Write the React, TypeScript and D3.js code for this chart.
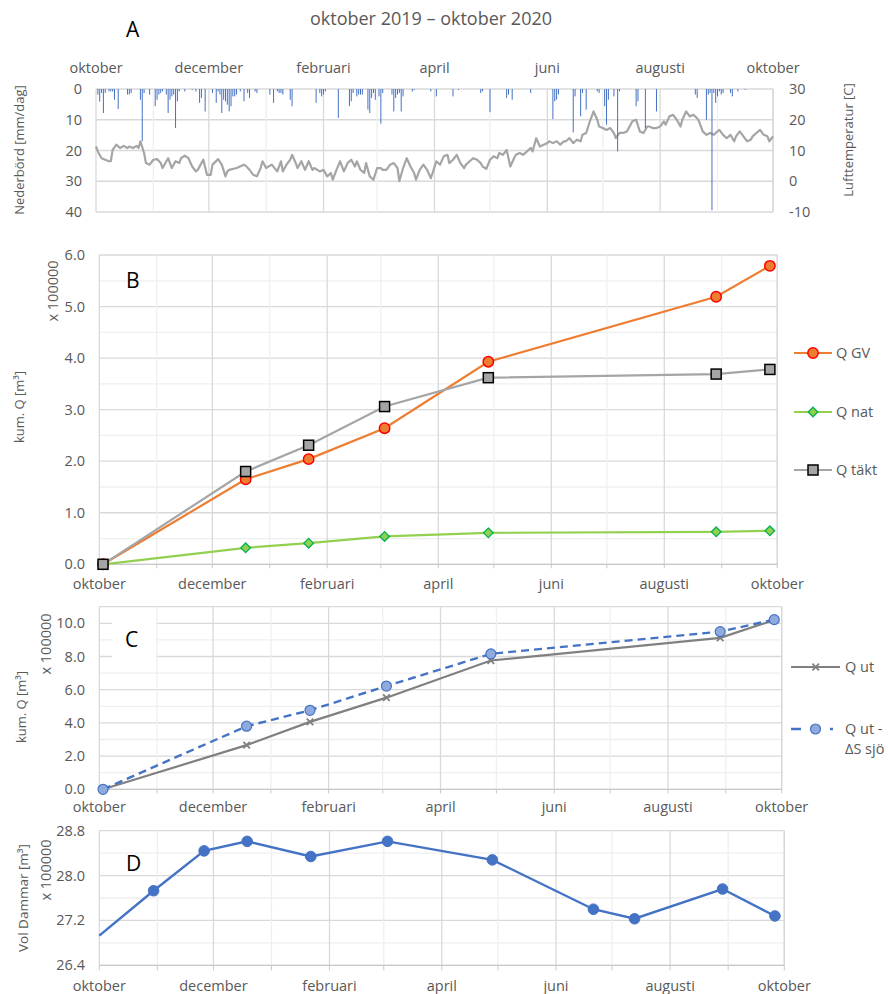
import React from "react";
import * as d3 from "d3";

const FONT = "'Open Sans', sans-serif";
const TXT = "#595959";
const GMAJ = "#D9D9D9";
const GMIN = "#EFEFEF";
const AXIS = "#C8C8C8";

const parse = d3.timeParse("%Y-%m-%d");
const T0 = parse("2019-10-01") as Date;
const T1 = parse("2020-10-01") as Date;
const monthNames = ["januari", "februari", "mars", "april", "maj", "juni", "juli", "augusti", "september", "oktober", "november", "december"];

// ---------- Panel A: daily precipitation (days since 1 Oct 2019) ----------
const precipDay = [1, 2, 3, 4, 5, 7, 8, 9, 10, 12, 17, 18, 19, 24, 25, 26, 29, 32, 33, 34, 35, 36, 38, 39, 40, 41, 42, 43, 44, 45, 48, 52, 54, 56, 57, 59, 63, 65, 66, 67, 68, 69, 70, 71, 72, 73, 74, 75, 76, 78, 80, 82, 83, 86, 87, 94, 96, 98, 99, 100, 101, 105, 106, 119, 121, 122, 123, 124, 131, 137, 138, 139, 141, 142, 143, 144, 147, 148, 149, 150, 151, 153, 154, 155, 160, 161, 162, 163, 164, 165, 166, 171, 172, 181, 184, 193, 196, 208, 209, 213, 222, 223, 225, 235, 247, 248, 249, 250, 258, 259, 262, 263, 265, 271, 272, 275, 276, 277, 280, 282, 283, 292, 293, 297, 303, 324, 325, 330, 331, 332, 333, 334, 335, 336, 337, 338, 339, 343, 344, 347, 351];
const precipMm = [1.8, 4.1, 1.3, 7.8, 1.3, 0.8, 0.8, 0.8, 3.5, 6.5, 1.8, 1.8, 1.3, 3.5, 17.0, 1.3, 1.8, 5.6, 3.5, 1.8, 1.3, 0.8, 1.8, 7.8, 3.5, 2.4, 1.8, 12.7, 4.0, 0.8, 0.8, 0.3, 0.8, 4.5, 2.9, 7.3, 1.3, 4.5, 0.8, 1.8, 7.8, 3.5, 4.0, 5.1, 7.3, 5.6, 2.4, 2.4, 1.8, 0.8, 4.0, 1.3, 2.9, 0.8, 1.3, 1.8, 4.5, 0.8, 1.3, 1.3, 1.8, 3.5, 5.6, 4.5, 1.3, 2.4, 1.8, 0.8, 9.4, 5.6, 4.0, 1.3, 2.4, 1.8, 1.8, 1.8, 6.7, 7.8, 2.9, 1.3, 3.5, 2.4, 11.3, 1.3, 1.8, 7.3, 2.9, 1.8, 1.3, 7.3, 2.4, 0.8, 0.3, 0.8, 2.4, 2.4, 0.3, 1.3, 0.8, 7.5, 2.9, 1.8, 3.5, 1.3, 9.8, 4.0, 3.5, 1.8, 14.1, 2.4, 8.9, 1.3, 6.7, 0.8, 1.3, 5.6, 11.6, 3.5, 2.4, 20.3, 0.8, 5.6, 4.0, 12.7, 7.3, 1.8, 2.9, 10.0, 1.8, 1.3, 39.4, 1.3, 4.5, 2.4, 0.8, 1.8, 1.3, 1.3, 2.4, 0.8, 0.3];

// ---------- Panel A: air temperature ----------
const tempDay = [0, 1, 3, 5, 7, 8, 9, 11, 13, 15, 17, 18, 20, 22, 23, 24, 26, 27, 29, 31, 33, 35, 36, 39, 41, 43, 45, 46, 48, 50, 52, 54, 55, 58, 60, 62, 63, 66, 68, 70, 71, 72, 76, 80, 81, 83, 85, 87, 89, 90, 92, 95, 98, 100, 101, 103, 105, 106, 108, 109, 111, 113, 115, 117, 118, 121, 123, 125, 127, 128, 130, 132, 134, 136, 138, 140, 141, 143, 145, 146, 148, 150, 152, 154, 155, 157, 159, 161, 163, 164, 166, 168, 170, 172, 173, 175, 177, 179, 181, 182, 184, 186, 188, 190, 191, 193, 195, 197, 199, 200, 202, 204, 206, 208, 209, 211, 213, 215, 217, 218, 220, 222, 224, 226, 227, 229, 231, 233, 235, 236, 238, 240, 242, 244, 245, 247, 249, 251, 253, 254, 256, 258, 260, 262, 263, 265, 267, 269, 271, 272, 274, 276, 278, 280, 281, 283, 285, 287, 289, 290, 292, 294, 296, 298, 299, 301, 303, 305, 307, 308, 310, 312, 314, 316, 317, 319, 321, 323, 325, 326, 328, 330, 332, 334, 335, 337, 339, 341, 343, 345, 346, 348, 350, 352, 354, 355, 357, 359, 361, 363, 364, 366];
const tempC = [11.3, 9.7, 7.5, 7.0, 6.5, 6.5, 10.2, 11.9, 10.8, 11.5, 10.8, 11.3, 10.8, 11.5, 10.8, 13.0, 9.2, 5.9, 5.4, 7.0, 7.2, 5.9, 4.3, 7.5, 4.3, 6.5, 5.9, 7.5, 8.3, 7.5, 4.8, 3.2, 3.7, 7.0, 2.1, 2.1, 5.4, 7.2, 5.4, 1.6, 3.2, 3.7, 4.3, 5.4, 5.0, 3.7, 2.1, 1.6, 4.3, 6.5, 4.3, 5.4, 3.2, 6.5, 3.2, 5.4, 7.0, 8.6, 5.9, 4.3, 6.5, 3.7, 6.5, 3.7, 4.3, 3.2, 3.7, 1.6, 2.7, 0.5, 3.7, 6.5, 3.2, 5.9, 7.0, 4.8, 6.5, 3.7, 2.7, 5.9, 1.6, 0.5, 4.3, 4.3, 3.7, 3.7, 5.4, 5.9, 4.3, 0.0, 4.3, 7.5, 4.8, 2.7, 0.5, 3.7, 5.4, 3.7, 1.0, 2.7, 6.5, 5.4, 8.1, 8.6, 5.9, 7.0, 8.6, 5.9, 4.3, 5.4, 6.5, 7.5, 7.0, 5.9, 4.8, 4.0, 7.0, 8.1, 7.5, 9.2, 8.6, 10.2, 4.8, 7.5, 8.6, 9.2, 8.6, 9.7, 10.8, 9.7, 14.0, 11.3, 11.9, 12.4, 13.0, 12.4, 13.0, 11.9, 13.0, 13.0, 14.0, 12.4, 13.5, 13.0, 15.1, 15.7, 19.5, 22.7, 20.0, 17.8, 17.3, 16.7, 17.3, 15.7, 14.0, 15.7, 15.7, 16.2, 18.4, 19.5, 20.0, 16.2, 15.7, 17.8, 17.8, 17.3, 17.3, 17.8, 19.5, 18.4, 21.1, 21.6, 20.0, 17.8, 20.0, 22.7, 21.1, 21.6, 20.5, 19.5, 16.2, 15.1, 15.7, 15.1, 15.7, 16.7, 15.1, 14.0, 15.1, 13.0, 14.6, 16.2, 14.6, 13.0, 13.5, 14.6, 15.7, 16.7, 15.1, 14.6, 13.0, 14.6];
const precipTicks = [0, 10, 20, 30, 40];
const tempTicks = [-10, 0, 10, 20, 30];

// ---------- Panel B: cumulative Q (x 100000 m3) ----------
const bDates = ["2019-10-03", "2019-12-19", "2020-01-22", "2020-03-03", "2020-04-28", "2020-08-29", "2020-09-27"];
const qGV = [0, 1.65, 2.04, 2.64, 3.93, 5.19, 5.79];
const qNat = [0, 0.32, 0.41, 0.54, 0.61, 0.63, 0.65];
const qTakt = [0, 1.8, 2.31, 3.06, 3.62, 3.69, 3.78];
const bTicks = [0, 1, 2, 3, 4, 5, 6];

// ---------- Panel C ----------
const cDates = ["2019-10-03", "2019-12-19", "2020-01-22", "2020-03-03", "2020-04-28", "2020-08-29", "2020-09-27"];
const qUt = [0, 2.66, 4.06, 5.52, 7.76, 9.12, 10.2];
const qUtDS = [0, 3.8, 4.76, 6.22, 8.16, 9.5, 10.22];
const cTicks = [0, 2, 4, 6, 8, 10];

// ---------- Panel D ----------
const dDates = ["2019-10-01", "2019-10-30", "2019-11-26", "2019-12-19", "2020-01-22", "2020-03-03", "2020-04-28", "2020-06-21", "2020-07-13", "2020-08-29", "2020-09-26"];
const volDammar = [26.93, 27.73, 28.44, 28.61, 28.34, 28.61, 28.28, 27.4, 27.23, 27.76, 27.28];
const dTicks = [26.4, 27.2, 28.0, 28.8];

const months = d3.timeMonth.range(T0, d3.timeDay.offset(T1, 1));
const dayDate = (d: number) => d3.timeDay.offset(T0, d);

type TS = d3.ScaleTime<number, number>;

function MonthGrid({ x, y0, y1, tick }: { x: TS; y0: number; y1: number; tick: number }) {
  return (
    <g>
      {months.map((m, i) => (
        <line key={"g" + i} x1={x(m)} x2={x(m)} y1={y0} y2={y1} stroke={i % 2 === 0 ? GMAJ : GMIN} strokeWidth={1.3} />
      ))}
      {tick > 0 &&
        months.map((m, i) => (
          <line key={"t" + i} x1={x(m)} x2={x(m)} y1={y1} y2={y1 + tick} stroke={AXIS} strokeWidth={1} />
        ))}
    </g>
  );
}

function MonthLabels({ x, y }: { x: TS; y: number }) {
  return (
    <g>
      {months
        .filter((_, i) => i % 2 === 0)
        .map((m, i) => (
          <text key={i} x={x(m)} y={y} textAnchor="middle" fontSize={14.5} fill={TXT}>
            {monthNames[m.getMonth()]}
          </text>
        ))}
    </g>
  );
}

function VLabel({ x, y, text, size = 13 }: { x: number; y: number; text: string; size?: number }) {
  return (
    <text transform={`translate(${x},${y}) rotate(-90)`} textAnchor="middle" fontSize={size} fill={TXT}>
      {text}
    </text>
  );
}

function Circle({ cx, cy, r, fill, stroke, sw }: any) {
  return <circle cx={cx} cy={cy} r={r} fill={fill} stroke={stroke} strokeWidth={sw} />;
}
function Square({ cx, cy }: any) {
  return <rect x={cx - 5} y={cy - 5} width={10} height={10} fill="#A5A5A5" stroke="#000" strokeWidth={1.5} />;
}
function Diamond({ cx, cy }: any) {
  const s = 4.8;
  return <path d={`M${cx},${cy - s}L${cx + s},${cy}L${cx},${cy + s}L${cx - s},${cy}Z`} fill="#92D050" stroke="#00B050" strokeWidth={1.3} />;
}
function XMark({ cx, cy }: any) {
  const s = 3.3;
  return <path d={`M${cx - s},${cy - s}L${cx + s},${cy + s}M${cx - s},${cy + s}L${cx + s},${cy - s}`} stroke="#808080" strokeWidth={1.8} />;
}

export default function App() {
  // ---------- A ----------
  const xA = d3.scaleTime().domain([T0, T1]).range([96, 773]);
  const yP = d3.scaleLinear().domain([0, 40]).range([89, 212]);
  const yT = d3.scaleLinear().domain([-10, 30]).range([212, 89]);
  const tempLine = d3
    .line<number>()
    .x((_, i) => xA(dayDate(tempDay[i])))
    .y((v) => yT(v))(tempC) as string;

  // ---------- B ----------
  const xB = d3.scaleTime().domain([T0, T1]).range([99.3, 777.3]);
  const yB = d3.scaleLinear().domain([0, 6]).range([564.3, 255]);
  const bX = bDates.map((s) => xB(parse(s) as Date));
  const mkLine = (xs: number[], ys: number[], y: d3.ScaleLinear<number, number>) =>
    d3.line<number>().x((_, i) => xs[i]).y((v) => y(v))(ys) as string;
  const bMinor = d3.range(0, 6.01, 0.5);

  // ---------- C ----------
  const xC = d3.scaleTime().domain([T0, T1]).range([99.3, 781.7]);
  const yC = d3.scaleLinear().domain([0, 11]).range([789.3, 606.7]);
  const cX = cDates.map((s) => xC(parse(s) as Date));
  const cGrid = d3.range(0, 11.01, 1);

  // ---------- D ----------
  const xD = d3.scaleTime().domain([T0, T1]).range([99.3, 784.3]);
  const yD = d3.scaleLinear().domain([26.4, 28.8]).range([965.3, 830.7]);
  const dX = dDates.map((s) => xD(parse(s) as Date));
  const dGrid = d3.range(0, 7).map((i) => 26.4 + i * 0.4);

  return (
    <svg width={888} height={994} style={{ position: "absolute", left: 0, top: 0, background: "#fff" }} fontFamily={FONT}>
      <rect x={0} y={0} width={888} height={994} fill="#fff" />
      {/* ===== Panel A ===== */}
      <text x={431} y={25} textAnchor="middle" fontSize={18} fill={TXT}>
        oktober 2019 – oktober 2020
      </text>
      <text x={126} y={37} fontSize={21} fill="#000">A</text>
      {precipTicks.map((t) => (
        <line key={t} x1={96} x2={773} y1={yP(t)} y2={yP(t)} stroke={GMAJ} strokeWidth={1.3} />
      ))}
      <MonthGrid x={xA} y0={89} y1={212} tick={0} />
      <line x1={773} x2={773} y1={89} y2={212} stroke={GMAJ} strokeWidth={1.3} />
      <path d={tempLine} fill="none" stroke="#A5A5A5" strokeWidth={2.2} strokeLinejoin="round" />
      {precipDay.map((d, i) => (
        <rect key={i} x={xA(dayDate(d)) - 0.5} y={yP(0)} width={1} height={yP(precipMm[i]) - yP(0)} fill="#4472C4" />
      ))}
      <MonthLabels x={xA} y={73} />
      {precipTicks.map((t) => (
        <text key={t} x={82} y={yP(t) + 5} textAnchor="end" fontSize={14.5} fill={TXT}>{t}</text>
      ))}
      {tempTicks.map((t) => (
        <text key={t} x={789} y={yT(t) + 5} fontSize={14.5} fill={TXT}>{t}</text>
      ))}
      <VLabel x={24} y={150} text="Nederbörd [mm/dag]" />
      <VLabel x={853} y={140} text="Lufttemperatur [C]" />

      {/* ===== Panel B ===== */}
      {bMinor.map((t, i) => (
        <line key={i} x1={99.3} x2={777.3} y1={yB(t)} y2={yB(t)} stroke={i % 2 === 0 ? GMAJ : GMIN} strokeWidth={1.3} />
      ))}
      <MonthGrid x={xB} y0={255} y1={564.3} tick={4} />
      <line x1={777.3} x2={777.3} y1={255} y2={564.3} stroke={GMAJ} strokeWidth={1.3} />
      <line x1={99.3} x2={777.3} y1={564.3} y2={564.3} stroke={AXIS} strokeWidth={1.3} />
      <text x={126} y={288} fontSize={21} fill="#000">B</text>
      <path d={mkLine(bX, qGV, yB)} fill="none" stroke="#ED7D31" strokeWidth={2.2} />
      {qGV.map((v, i) => (
        <Circle key={i} cx={bX[i]} cy={yB(v)} r={5.2} fill="#ED7D31" stroke="#FF0000" sw={1.5} />
      ))}
      <path d={mkLine(bX, qNat, yB)} fill="none" stroke="#92D050" strokeWidth={2.2} />
      {qNat.map((v, i) => (
        <Diamond key={i} cx={bX[i]} cy={yB(v)} />
      ))}
      <path d={mkLine(bX, qTakt, yB)} fill="none" stroke="#A5A5A5" strokeWidth={2.2} />
      {qTakt.map((v, i) => (
        <Square key={i} cx={bX[i]} cy={yB(v)} />
      ))}
      {bTicks.map((t) => (
        <text key={t} x={85} y={yB(t) + 5} textAnchor="end" fontSize={14.5} fill={TXT}>{t.toFixed(1)}</text>
      ))}
      <MonthLabels x={xB} y={589} />
      <VLabel x={58} y={291} text="x 100000" size={14.5} />
      <VLabel x={24} y={407} text="kum. Q [m³]" />
      {/* legend B */}
      <line x1={794} x2={832} y1={353} y2={353} stroke="#ED7D31" strokeWidth={2.2} />
      <Circle cx={813} cy={353} r={5.2} fill="#ED7D31" stroke="#FF0000" sw={1.5} />
      <text x={836} y={358} fontSize={14.5} fill={TXT}>Q GV</text>
      <line x1={794} x2={832} y1={412} y2={412} stroke="#92D050" strokeWidth={2.2} />
      <Diamond cx={813} cy={412} />
      <text x={836} y={417} fontSize={14.5} fill={TXT}>Q nat</text>
      <line x1={794} x2={832} y1={470} y2={470} stroke="#A5A5A5" strokeWidth={2.2} />
      <Square cx={813} cy={470} />
      <text x={836} y={475} fontSize={14.5} fill={TXT}>Q täkt</text>

      {/* ===== Panel C ===== */}
      {cGrid.map((t, i) => (
        <line key={i} x1={99.3} x2={781.7} y1={yC(t)} y2={yC(t)} stroke={i % 2 === 0 || i === 11 ? GMAJ : GMIN} strokeWidth={1.3} />
      ))}
      <MonthGrid x={xC} y0={606.7} y1={789.3} tick={4} />
      <line x1={781.7} x2={781.7} y1={606.7} y2={789.3} stroke={GMAJ} strokeWidth={1.3} />
      <line x1={99.3} x2={781.7} y1={789.3} y2={789.3} stroke={AXIS} strokeWidth={1.3} />
      <rect x={112} y={622} width={44} height={36} fill="#fff" />
      <text x={125} y={647} fontSize={21} fill="#000">C</text>
      <path d={mkLine(cX, qUt, yC)} fill="none" stroke="#808080" strokeWidth={2.2} />
      {qUt.map((v, i) => (
        <XMark key={i} cx={cX[i]} cy={yC(v)} />
      ))}
      <path d={mkLine(cX, qUtDS, yC)} fill="none" stroke="#4472C4" strokeWidth={2.4} strokeDasharray="8 5" />
      {qUtDS.map((v, i) => (
        <Circle key={i} cx={cX[i]} cy={yC(v)} r={5} fill="#8FAADC" stroke="#4472C4" sw={1.2} />
      ))}
      {cTicks.map((t) => (
        <text key={t} x={85} y={yC(t) + 5} textAnchor="end" fontSize={14.5} fill={TXT}>{t.toFixed(1)}</text>
      ))}
      <MonthLabels x={xC} y={812} />
      <VLabel x={51} y={644} text="x 100000" size={14.5} />
      <VLabel x={26} y={707} text="kum. Q [m³]" />
      {/* legend C */}
      <line x1={791} x2={840} y1={667} y2={667} stroke="#808080" strokeWidth={2.2} />
      <XMark cx={815.7} cy={667} />
      <text x={845} y={672} fontSize={14.5} fill={TXT}>Q ut</text>
      <line x1={791} x2={840} y1={729} y2={729} stroke="#4472C4" strokeWidth={2.4} strokeDasharray="10 29 3 20" />
      <Circle cx={815.5} cy={729} r={5} fill="#8FAADC" stroke="#4472C4" sw={1.2} />
      <text x={845} y={734} fontSize={14.5} fill={TXT}>Q ut -</text>
      <text x={845} y={754} fontSize={14.5} fill={TXT}>ΔS sjö</text>

      {/* ===== Panel D ===== */}
      {dGrid.map((t, i) => (
        <line key={i} x1={99.3} x2={784.3} y1={yD(t)} y2={yD(t)} stroke={i % 2 === 0 ? GMAJ : GMIN} strokeWidth={1.3} />
      ))}
      <MonthGrid x={xD} y0={830.7} y1={965.3} tick={5} />
      <line x1={784.3} x2={784.3} y1={830.7} y2={965.3} stroke={GMAJ} strokeWidth={1.3} />
      <line x1={99.3} x2={784.3} y1={965.3} y2={965.3} stroke={AXIS} strokeWidth={1.3} />
      <text x={126} y={871} fontSize={21} fill="#000">D</text>
      <path d={mkLine(dX, volDammar, yD)} fill="none" stroke="#4472C4" strokeWidth={2.4} />
      {volDammar.map((v, i) =>
        i === 0 ? null : <Circle key={i} cx={dX[i]} cy={yD(v)} r={5.3} fill="#4472C4" stroke="#4472C4" sw={1} />
      )}
      {dTicks.map((t) => (
        <text key={t} x={85} y={yD(t) + 5} textAnchor="end" fontSize={14.5} fill={TXT}>{t.toFixed(1)}</text>
      ))}
      <MonthLabels x={xD} y={991} />
      <VLabel x={51} y={870} text="x 100000" size={14.5} />
      <VLabel x={28} y={898} text="Vol Dammar  [m³]" size={13.5} />
    </svg>
  );
}
